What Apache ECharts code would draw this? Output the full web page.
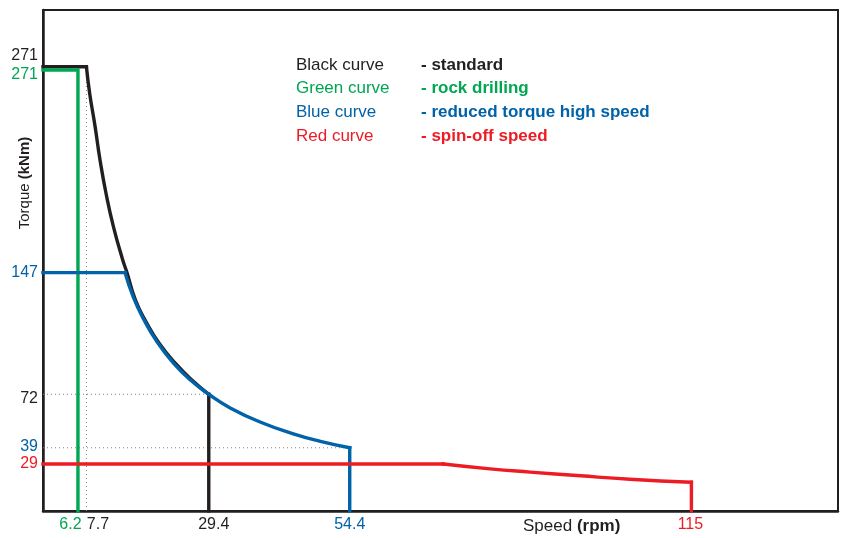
<!DOCTYPE html>
<html><head><meta charset="utf-8">
<script src="https://cdn.jsdelivr.net/npm/echarts@6/dist/echarts.min.js"></script>
<style>html,body{margin:0;padding:0;background:#fff}#c{width:846px;height:538px}</style>
</head><body><div id="c"></div>
<script>
// ---- data ----
const blackFlat = [[0,274],[7.7,274]];
const blackBend = [[7.7,274],[8.3,257],[9.2,238],[10.1,216.8],[11.2,195.5],[12.5,175.2],[14.1,155.3],[14.85,147.5],[16.4,130],[18.3,116.6],[20.6,103.5],[23.5,91],[26.4,80.8],[29.4,72]];
const blackDrop = [[29.4,72],[29.4,0]];
const greenCurve = [[0,272],[6.2,272],[6.2,0]];
const blueFlat = [[0,147],[14.55,147]];
const blueBend = [[14.55,147],[16,132],[17.8,118.6],[20.2,104.5],[23.1,91.4],[26.2,80.6],[29.4,72],[33.2,63.6],[38.5,54.9],[44.4,47.6],[49.2,43],[54.4,39]];
const blueDrop = [[54.4,39],[54.4,0]];
const redFlat = [[0,29],[71,29]];
const redBend = [[71,29],[79.3,26],[86.4,24],[95.3,21.7],[104.1,19.6],[115,17.7]];
const redDrop = [[115,17.7],[115,0]];
const guide77 = [[7.7,0],[7.7,274]];
const guide72 = [[0,72],[29.4,72]];
const guide39 = [[0,39],[54.4,39]];

const xTickValues = [6.2, 7.7, 29.4, 54.4, 115];
const xTickLabels = ['6.2', '7.7', '29.4', '54.4', '115'];
const yTickValues = [271, 271, 147, 72, 39, 29];
const yTickLabels = ['271', '271', '147', '72', '39', '29'];
const legendNames = ['Black curve', 'Green curve', 'Blue curve', 'Red curve'];
const legendDescs = ['- standard', '- rock drilling', '- reduced torque high speed', '- spin-off speed'];
const xAxisTitle = ['Speed ', '(rpm)'];
const yAxisTitle = ['Torque ', '(kNm)'];

// ---- styles ----
const C = { k: '#231f20', g: '#00a651', b: '#0062a8', r: '#ed1c24', dot: '#808285' };
const FONT = '"Liberation Sans", Arial, Helvetica, sans-serif';
const xTickColors = [C.g, C.k, C.k, C.b, C.r];
const xTickShift = [-7.5, 11.5, 5, 0, -1];
const yTickColors = [C.k, C.g, C.b, C.k, C.b, C.r];
const yTickShift = [-16, 2.5, 0, 4, -1, 0];
const legendColors = [C.k, C.g, C.b, C.r];

const chart = echarts.init(document.getElementById('c'), null, { renderer: 'canvas' });

function lineSeries(data, color, opts) {
  return Object.assign({
    type: 'line', data: data, symbol: 'none', silent: true, animation: false,
    lineStyle: { color: color, width: 3.4, cap: 'square', join: 'miter' }
  }, opts || {});
}
function bendSeries(data, color, z) {
  return lineSeries(data, color, { z: z, smooth: 0.5 });
}
function guideSeries(data) {
  return { type: 'line', data: data, symbol: 'none', silent: true, animation: false, z: 1,
    lineStyle: { color: C.dot, width: 1, type: [1, 3] } };
}

chart.setOption({
  animation: false,
  grid: { left: 43, top: 10, right: 8, bottom: 27, show: true, borderColor: C.k, borderWidth: 2 },
  xAxis: { type: 'value', min: 0, max: 141, splitLine: { show: false },
    axisLine: { show: true, lineStyle: { color: C.k, width: 2.5 } },
    axisTick: { show: false }, axisLabel: { show: false } },
  yAxis: { type: 'value', min: 0, max: 309, splitLine: { show: false },
    axisLine: { show: true, lineStyle: { color: C.k, width: 2.5 } },
    axisTick: { show: false }, axisLabel: { show: false } },
  series: [
    guideSeries(guide77), guideSeries(guide72), guideSeries(guide39),
    lineSeries(blackFlat, C.k, { z: 2 }),
    bendSeries(blackBend, C.k, 2),
    lineSeries(blackDrop, C.k, { z: 2 }),
    lineSeries(greenCurve, C.g, { z: 3 }),
    lineSeries(blueFlat, C.b, { z: 4 }),
    bendSeries(blueBend, C.b, 4),
    lineSeries(blueDrop, C.b, { z: 4 }),
    lineSeries(redFlat, C.r, { z: 5 }),
    bendSeries(redBend, C.r, 5),
    lineSeries(redDrop, C.r, { z: 5 })
  ]
});

const g = [];
xTickValues.forEach((v, i) => {
  const px = chart.convertToPixel({ xAxisIndex: 0 }, v);
  g.push({ type: 'text', x: px + xTickShift[i], y: 525, silent: true,
    style: { text: xTickLabels[i], fill: xTickColors[i], font: '16px ' + FONT, align: 'center', verticalAlign: 'middle' } });
});
yTickValues.forEach((v, i) => {
  const py = chart.convertToPixel({ yAxisIndex: 0 }, v);
  g.push({ type: 'text', x: 38, y: py + yTickShift[i], silent: true,
    style: { text: yTickLabels[i], fill: yTickColors[i], font: '16px ' + FONT, align: 'right', verticalAlign: 'middle' } });
});
legendNames.forEach((n, i) => {
  const y = 65 + i * 23.8;
  g.push({ type: 'text', x: 296, y: y, silent: true,
    style: { text: n, fill: legendColors[i], font: '17px ' + FONT, align: 'left', verticalAlign: 'middle' } });
  g.push({ type: 'text', x: 421, y: y, silent: true,
    style: { text: legendDescs[i], fill: legendColors[i], font: 'bold 17px ' + FONT, align: 'left', verticalAlign: 'middle' } });
});
g.push({ type: 'text', x: 523, y: 526, silent: true,
  style: { text: xAxisTitle[0] + '{b|' + xAxisTitle[1] + '}', fill: C.k, font: '17px ' + FONT,
    align: 'left', verticalAlign: 'middle',
    rich: { b: { fontWeight: 'bold', fontSize: 17, fontFamily: FONT, fill: C.k } } } });
g.push({ type: 'text', x: 25, y: 183, rotation: Math.PI / 2, silent: true,
  style: { text: yAxisTitle[0] + '{b|' + yAxisTitle[1] + '}', fill: C.k, font: '15px ' + FONT,
    align: 'center', verticalAlign: 'middle',
    rich: { b: { fontWeight: 'bold', fontSize: 15, fontFamily: FONT, fill: C.k } } } });
chart.setOption({ graphic: g });
</script>
</body></html>
